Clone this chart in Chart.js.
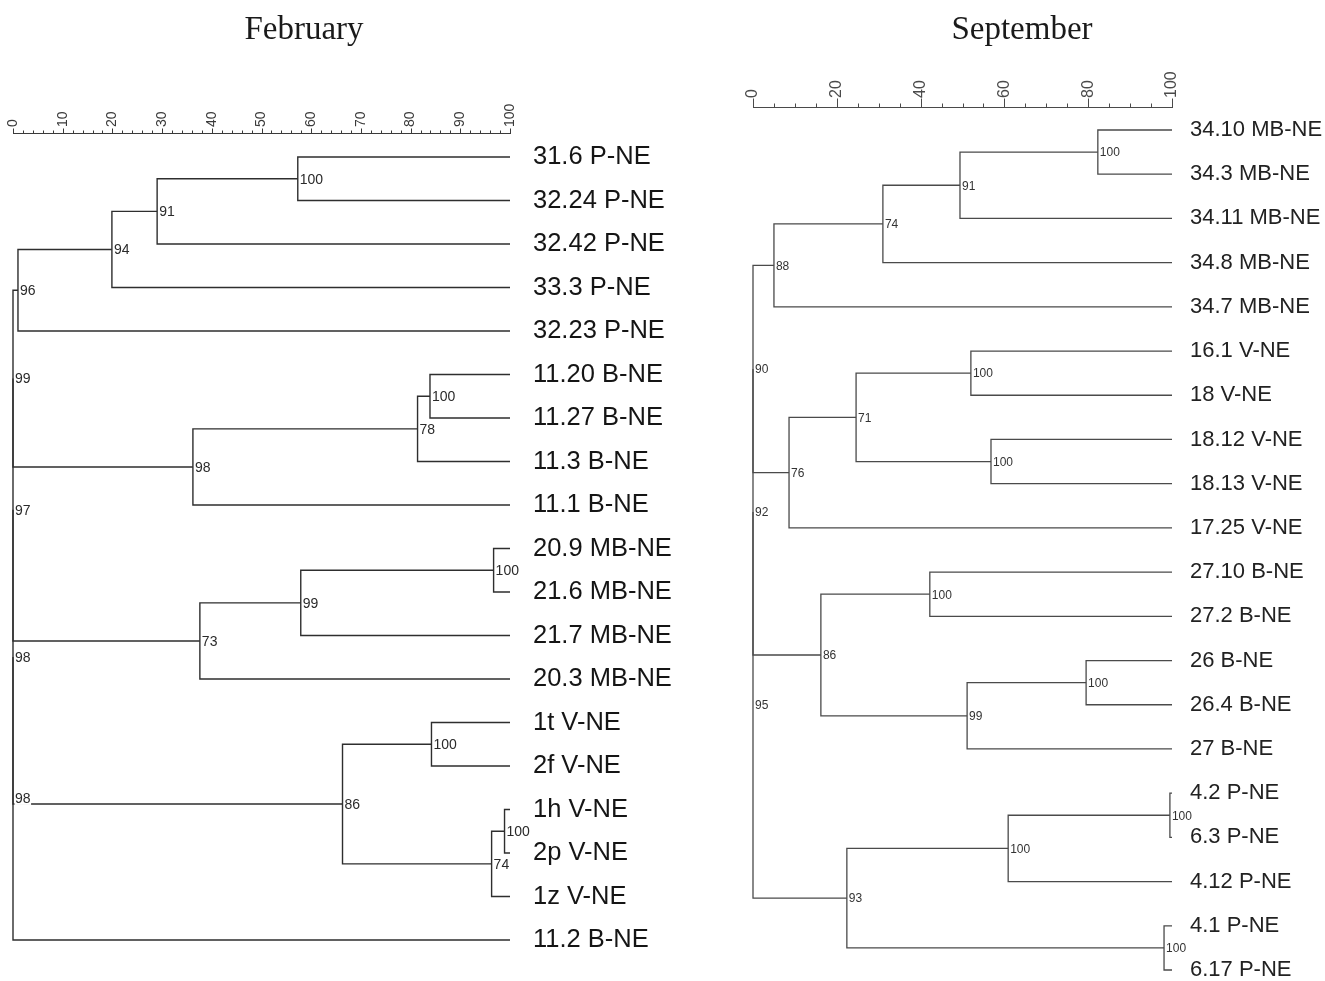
<!DOCTYPE html>
<html>
<head>
<meta charset="utf-8">
<title>February / September dendrograms</title>
<script src="https://cdn.jsdelivr.net/npm/chart.js@4.4.1/dist/chart.umd.min.js"></script>
<style>
  html, body { margin: 0; padding: 0; background: #ffffff; }
  #wrap { position: relative; width: 1325px; height: 981px; overflow: hidden; background: #ffffff; }
  canvas { position: absolute; top: 0; }
  #feb { left: 0; }
  #sep { left: 700px; }
</style>
</head>
<body>
<div id="wrap">
  <canvas id="feb" width="700" height="981"></canvas>
  <canvas id="sep" width="625" height="981"></canvas>
</div>
<script>
// ---------- February ----------
// Leaves top to bottom. Ids 0..18 are leaves; join k creates id 19 + k.
const febLeaves = ['31.6 P-NE', '32.24 P-NE', '32.42 P-NE', '33.3 P-NE', '32.23 P-NE',
  '11.20 B-NE', '11.27 B-NE', '11.3 B-NE', '11.1 B-NE',
  '20.9 MB-NE', '21.6 MB-NE', '21.7 MB-NE', '20.3 MB-NE',
  '1t V-NE', '2f V-NE', '1h V-NE', '2p V-NE', '1z V-NE', '11.2 B-NE'];
const febJoinA   = [0, 19, 20, 21, 5, 23, 24, 9, 26, 27, 13, 15, 30, 29, 22, 33, 34, 35];
const febJoinB   = [1, 2, 3, 4, 6, 7, 8, 10, 11, 12, 14, 16, 17, 31, 25, 28, 32, 18];
const febJoinSim = [57.3, 29.0, 19.9, 1.0, 83.9, 81.4, 36.2, 96.7, 57.9, 37.6, 84.2, 98.9, 96.3, 66.3, 0, 0, 0, 0];
const febSupport = [100, 91, 94, 96, 100, 78, 98, 100, 99, 73, 100, 100, 74, 86, 99, 97, 98, 98];
const febTickLabels = [0, 10, 20, 30, 40, 50, 60, 70, 80, 90, 100];

// ---------- September ----------
// Ids 0..19 are leaves; join k creates id 20 + k.
const sepLeaves = ['34.10 MB-NE', '34.3 MB-NE', '34.11 MB-NE', '34.8 MB-NE', '34.7 MB-NE',
  '16.1 V-NE', '18 V-NE', '18.12 V-NE', '18.13 V-NE', '17.25 V-NE',
  '27.10 B-NE', '27.2 B-NE', '26 B-NE', '26.4 B-NE', '27 B-NE',
  '4.2 P-NE', '6.3 P-NE', '4.12 P-NE', '4.1 P-NE', '6.17 P-NE'];
const sepJoinA   = [0, 20, 21, 22, 5, 7, 24, 26, 10, 12, 29, 28, 15, 32, 18, 33, 23, 36, 37];
const sepJoinB   = [1, 2, 3, 4, 6, 8, 25, 9, 11, 13, 14, 30, 16, 17, 19, 34, 27, 31, 35];
const sepJoinSim = [82.3, 49.4, 31.0, 5.0, 52.0, 56.8, 24.6, 8.6, 42.2, 79.5, 51.1, 16.2, 99.5, 60.9, 98.1, 22.4, 0, 0, 0];
const sepSupport = [100, 91, 74, 88, 100, 100, 71, 76, 100, 100, 99, 86, 100, 100, 100, 93, 90, 92, 95];
const sepTickLabels = [0, 20, 40, 60, 80, 100];

const TIP_SIM = 100; // leaves sit at 100 % similarity

// Turns the join lists into bracket polylines and support marks.
function buildTree(leaves, joinA, joinB, joinSim, support) {
  const pos = leaves.map((_, i) => ({ x: TIP_SIM, y: i }));
  const segments = [];
  const marks = [];
  joinA.forEach((a, k) => {
    const b = joinB[k];
    const s = joinSim[k];
    const pa = pos[a], pb = pos[b];
    const node = { x: s, y: (pa.y + pb.y) / 2 };
    pos.push(node);
    segments.push([
      { x: pa.x, y: pa.y }, { x: s, y: pa.y },
      { x: s, y: pb.y }, { x: pb.x, y: pb.y }
    ]);
    marks.push({ x: s, y: node.y, text: String(support[k]) });
  });
  return { segments, marks };
}

// Draws the panel title, the similarity ruler and the support values.
const dendroPlugin = {
  id: 'dendro',
  afterDraw(chart, args, o) {
    const ctx = chart.ctx;
    const xs = chart.scales.x, ys = chart.scales.y;
    ctx.save();

    ctx.font = o.titleFont;
    ctx.fillStyle = '#1a1a1a';
    ctx.textAlign = 'center';
    ctx.textBaseline = 'alphabetic';
    ctx.fillText(o.title, o.titleX, o.titleY);

    const r = o.ruler;
    ctx.strokeStyle = r.color;
    ctx.lineWidth = 1;
    ctx.beginPath();
    const bx0 = Math.round(xs.getPixelForValue(0));
    const bx1 = Math.round(xs.getPixelForValue(100));
    ctx.moveTo(bx0, r.y + 0.5);
    ctx.lineTo(bx1 + 1, r.y + 0.5);
    for (let v = 0; v <= 100; v += r.minor) {
      const px = Math.round(xs.getPixelForValue(v)) + 0.5;
      const len = (v % r.major === 0) ? r.majorLen : r.minorLen;
      ctx.moveTo(px, r.y + 0.5);
      ctx.lineTo(px, r.y + 0.5 - len);
    }
    ctx.stroke();

    ctx.font = r.font;
    ctx.fillStyle = r.color;
    ctx.textAlign = 'left';
    ctx.textBaseline = 'middle';
    r.labels.forEach(v => {
      const px = xs.getPixelForValue(v);
      ctx.save();
      ctx.translate(px, r.y - r.gap);
      ctx.rotate(-Math.PI / 2);
      ctx.fillText(String(v), 0, 0);
      ctx.restore();
    });

    ctx.font = o.markFont;
    ctx.textAlign = 'left';
    ctx.textBaseline = 'middle';
    o.marks.forEach(m => {
      const px = xs.getPixelForValue(m.x) + 1;
      const py = ys.getPixelForValue(m.y);
      const w = ctx.measureText(m.text).width;
      ctx.fillStyle = '#ffffff';
      ctx.fillRect(px + 0.5, py - o.markBox / 2, w + 1, o.markBox);
      ctx.fillStyle = o.markColor;
      ctx.fillText(m.text, px + 1, py + 1);
    });
    ctx.restore();
  }
};

function makeChart(id, cfg) {
  const tree = buildTree(cfg.leaves, cfg.joinA, cfg.joinB, cfg.joinSim, cfg.support);
  const datasets = tree.segments.map(pts => ({
    data: pts,
    showLine: true,
    borderColor: cfg.lineColor,
    borderWidth: cfg.lineWidth,
    pointRadius: 0,
    pointHoverRadius: 0,
    tension: 0,
    fill: false,
    clip: false
  }));
  return new Chart(document.getElementById(id), {
    type: 'scatter',
    data: { datasets },
    plugins: [dendroPlugin],
    options: {
      responsive: false,
      animation: false,
      events: [],
      layout: { padding: cfg.padding },
      scales: {
        x: { type: 'linear', min: 0, max: 100, display: false },
        y: {
          type: 'linear',
          position: 'right',
          reverse: true,
          min: 0,
          max: cfg.leaves.length - 1,
          grid: { display: false, drawTicks: false },
          border: { display: false },
          ticks: {
            stepSize: 1,
            autoSkip: false,
            padding: cfg.labelPad,
            color: cfg.labelColor,
            font: { family: 'Liberation Sans, Arial, sans-serif', size: cfg.labelSize, lineHeight: 1 },
            callback: v => (cfg.leaves[v] !== undefined ? cfg.leaves[v] : '')
          },
          afterFit(scale) {
            scale.width = cfg.axisWidth;
            scale.paddingTop = 0;
            scale.paddingBottom = 0;
          }
        }
      },
      plugins: {
        legend: { display: false },
        tooltip: { enabled: false },
        dendro: {
          title: cfg.title,
          titleX: cfg.titleX,
          titleY: 39,
          titleFont: '33px "Liberation Serif", "Times New Roman", serif',
          ruler: cfg.ruler,
          marks: tree.marks,
          markFont: cfg.markFont,
          markColor: cfg.markColor,
          markBox: cfg.markBox
        }
      }
    }
  });
}

makeChart('feb', {
  leaves: febLeaves, joinA: febJoinA, joinB: febJoinB, joinSim: febJoinSim, support: febSupport,
  title: 'February', titleX: 304,
  padding: { left: 13, top: 157, right: 0, bottom: 41 },
  axisWidth: 190, labelPad: 23, labelSize: 25.5, labelColor: '#151515',
  lineColor: '#2e2e2e', lineWidth: 1.4,
  markFont: '14px "Liberation Sans", Arial, sans-serif', markColor: '#2a2a2a', markBox: 13,
  ruler: { y: 133, minor: 2, major: 10, minorLen: 3, majorLen: 5, gap: 6,
           labels: febTickLabels, color: '#3a3a3a', font: '14px "Liberation Sans", Arial, sans-serif' }
});

makeChart('sep', {
  leaves: sepLeaves, joinA: sepJoinA, joinB: sepJoinB, joinSim: sepJoinSim, support: sepSupport,
  title: 'September', titleX: 322,
  padding: { left: 53, top: 130, right: 0, bottom: 11 },
  axisWidth: 153, labelPad: 18, labelSize: 22, labelColor: '#222222',
  lineColor: '#4a4a4a', lineWidth: 1.3,
  markFont: '12px "Liberation Sans", Arial, sans-serif', markColor: '#333333', markBox: 11,
  ruler: { y: 107, minor: 5, major: 20, minorLen: 4, majorLen: 9, gap: 9,
           labels: sepTickLabels, color: '#4a4a4a', font: '16px "Liberation Sans", Arial, sans-serif' }
});
</script>
</body>
</html>
